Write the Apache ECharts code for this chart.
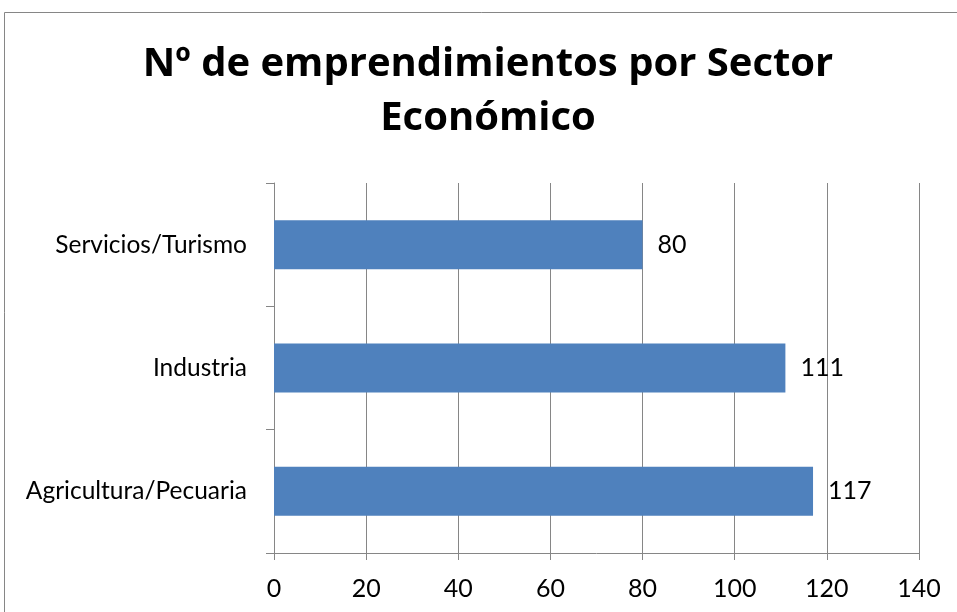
<!DOCTYPE html>
<html>
<head>
<meta charset="utf-8">
<script src="https://cdn.jsdelivr.net/npm/echarts@6/dist/echarts.min.js"></script>
<style>
  html, body { margin: 0; padding: 0; background: #fff; }
  #chart { width: 957px; height: 612px; }
</style>
</head>
<body>
<div id="chart"></div>
<script>
// Sectors, listed bottom to top as they appear on the category axis
const sectors = ['Agricultura/Pecuaria', 'Industria', 'Servicios/Turismo'];
const counts = [117, 111, 80];
const xTicks = { min: 0, max: 140, step: 20 };

const FONT = 'Lato, "Open Sans", sans-serif';
const TITLE_FONT = '"Open Sans", "Noto Sans", sans-serif';
const GRAY = '#868686';

const chart = echarts.init(document.getElementById('chart'), null, { renderer: 'canvas' });

chart.setOption({
  animation: false,
  backgroundColor: '#ffffff',
  graphic: [{
    type: 'rect',
    shape: { x: 4.5, y: 12.5, width: 980, height: 640 },
    style: { fill: 'none', stroke: GRAY, lineWidth: 1 },
    silent: true
  }],
  title: {
    text: 'Nº de emprendimientos por Sector\nEconómico',
    left: 483,
    top: 33,
    textAlign: 'center',
    textStyle: {
      fontFamily: TITLE_FONT,
      fontSize: 40,
      fontWeight: 'bold',
      color: '#000',
      lineHeight: 54
    }
  },
  grid: { left: 274, right: 38, top: 183, bottom: 59, containLabel: false },
  xAxis: {
    type: 'value',
    min: xTicks.min,
    max: xTicks.max,
    interval: xTicks.step,
    axisLine: { show: true, lineStyle: { color: GRAY, width: 1 } },
    axisTick: { show: true, length: 7, lineStyle: { color: GRAY } },
    splitLine: { show: true, lineStyle: { color: GRAY, width: 1 } },
    axisLabel: { color: '#000', fontFamily: FONT, fontSize: 25, margin: 23 }
  },
  yAxis: {
    type: 'category',
    data: sectors,
    axisLine: { show: true, lineStyle: { color: GRAY, width: 1 } },
    axisTick: { show: true, length: 8, alignWithLabel: false, lineStyle: { color: GRAY } },
    axisLabel: { color: '#000', fontFamily: FONT, fontSize: 24.5, margin: 27 }
  },
  series: [{
    type: 'bar',
    data: counts,
    barWidth: 49,
    itemStyle: { color: '#4F81BD' },
    label: {
      show: true,
      position: 'right',
      distance: 15,
      color: '#000',
      fontFamily: FONT,
      fontSize: 25
    }
  }]
});
</script>
</body>
</html>
